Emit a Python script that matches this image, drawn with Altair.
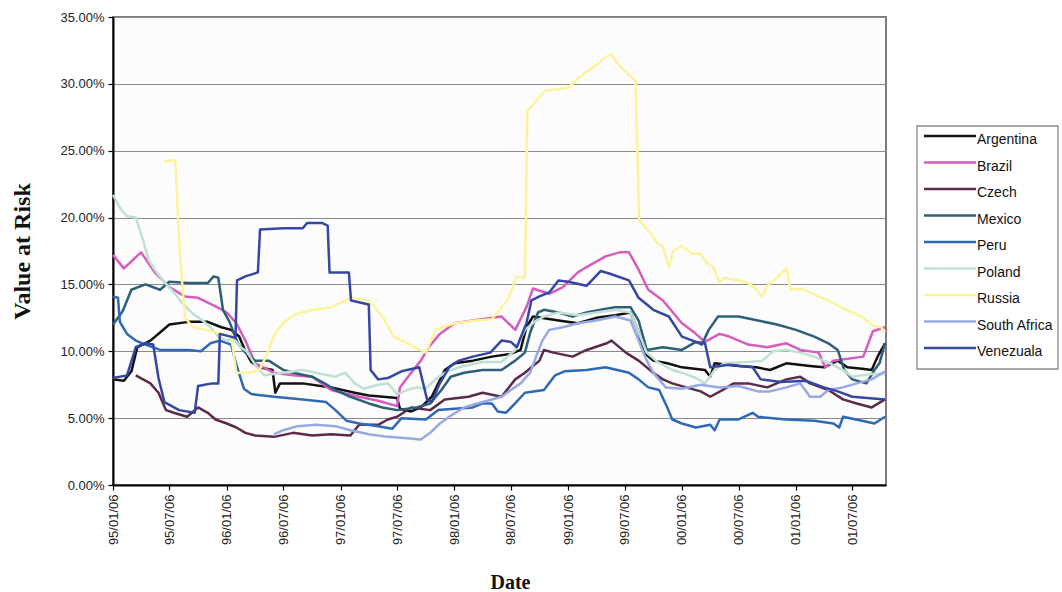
import altair as alt
import pandas as pd

# Weekly 1-day Value at Risk by emerging market, read as (date, % VaR) pairs
COUNTRIES = ["Argentina", "Brazil", "Czech", "Mexico", "Peru",
             "Poland", "Russia", "South Africa", "Venezuala"]

ARGENTINA = [
    ("1995-01-06", 7.9), ("1995-02-10", 7.8), ("1995-03-06", 8.5), ("1995-03-25", 10.3),
    ("1995-05-06", 10.8), ("1995-06-06", 11.4), ("1995-07-06", 12.0), ("1995-09-06", 12.2),
    ("1995-11-06", 12.2), ("1995-12-20", 11.8), ("1996-01-20", 11.6), ("1996-02-15", 11.1),
    ("1996-03-06", 10.0), ("1996-03-25", 9.2), ("1996-04-20", 8.8), ("1996-06-01", 8.6),
    ("1996-06-10", 6.9), ("1996-06-25", 7.6), ("1996-09-06", 7.6), ("1996-12-06", 7.3),
    ("1997-02-20", 6.9), ("1997-04-06", 6.7), ("1997-07-06", 6.5), ("1997-07-15", 5.7),
    ("1997-08-20", 5.5), ("1997-09-20", 5.8), ("1997-10-25", 6.6), ("1997-12-06", 8.6),
    ("1998-01-06", 9.1), ("1998-03-06", 9.3), ("1998-05-06", 9.6), ("1998-07-06", 9.8),
    ("1998-08-06", 10.1), ("1998-08-25", 11.8), ("1998-09-15", 12.6), ("1998-12-06", 12.3),
    ("1999-02-06", 12.1), ("1999-04-06", 12.5), ("1999-06-06", 12.7), ("1999-07-25", 12.9),
    ("1999-08-20", 11.4), ("1999-09-06", 9.9), ("1999-10-06", 9.3), ("1999-11-20", 9.1),
    ("2000-01-06", 8.8), ("2000-03-20", 8.6), ("2000-04-06", 8.1), ("2000-04-20", 9.1),
    ("2000-07-06", 8.9), ("2000-09-01", 8.8), ("2000-10-15", 8.6), ("2000-12-06", 9.1),
    ("2001-02-20", 8.9), ("2001-04-06", 8.8), ("2001-05-20", 9.3), ("2001-06-20", 8.8),
    ("2001-08-06", 8.7), ("2001-09-06", 8.6), ("2001-09-25", 9.6), ("2001-10-19", 10.6),
]

BRAZIL = [
    ("1995-01-06", 17.2), ("1995-02-10", 16.2), ("1995-04-06", 17.4), ("1995-05-20", 15.9),
    ("1995-07-06", 14.8), ("1995-08-25", 14.1), ("1995-10-06", 14.0), ("1995-12-06", 13.3),
    ("1996-01-06", 12.9), ("1996-02-06", 12.1), ("1996-03-06", 10.8), ("1996-04-06", 9.1),
    ("1996-06-06", 8.4), ("1996-08-06", 8.2), ("1996-10-06", 8.1), ("1996-12-06", 7.1),
    ("1997-03-06", 6.6), ("1997-05-06", 6.3), ("1997-07-06", 5.9), ("1997-07-15", 7.3),
    ("1997-08-20", 8.4), ("1997-09-20", 9.3), ("1997-10-15", 10.3), ("1997-11-20", 11.3),
    ("1998-01-06", 12.1), ("1998-03-06", 12.3), ("1998-06-06", 12.6), ("1998-07-20", 11.6),
    ("1998-08-25", 13.3), ("1998-09-15", 14.7), ("1998-11-06", 14.3), ("1998-12-20", 14.8),
    ("1999-02-06", 15.9), ("1999-03-06", 16.3), ("1999-05-06", 17.1), ("1999-06-20", 17.4),
    ("1999-07-20", 17.4), ("1999-08-20", 16.1), ("1999-09-20", 14.6), ("1999-11-06", 13.8),
    ("2000-01-06", 12.1), ("2000-02-15", 11.4), ("2000-03-20", 10.7), ("2000-05-06", 11.3),
    ("2000-06-06", 11.1), ("2000-08-06", 10.5), ("2000-10-06", 10.3), ("2000-12-06", 10.6),
    ("2001-01-20", 10.1), ("2001-03-20", 9.9), ("2001-04-10", 8.8), ("2001-05-06", 9.3),
    ("2001-08-10", 9.6), ("2001-09-10", 11.5), ("2001-10-19", 11.8),
]

CZECH = [
    ("1995-03-20", 8.2), ("1995-05-06", 7.6), ("1995-06-01", 6.9), ("1995-06-25", 5.6),
    ("1995-07-20", 5.4), ("1995-09-01", 5.1), ("1995-10-06", 5.8), ("1995-11-06", 5.4),
    ("1995-12-01", 4.9), ("1996-01-06", 4.6), ("1996-02-06", 4.3), ("1996-03-06", 3.9),
    ("1996-04-06", 3.7), ("1996-06-06", 3.6), ("1996-08-06", 3.9), ("1996-10-06", 3.7),
    ("1996-12-06", 3.8), ("1997-02-06", 3.7), ("1997-03-06", 4.5), ("1997-05-06", 4.5),
    ("1997-06-06", 4.9), ("1997-07-06", 5.1), ("1997-08-20", 5.8), ("1997-10-20", 5.6),
    ("1997-12-06", 6.4), ("1998-02-20", 6.6), ("1998-04-06", 6.9), ("1998-06-06", 6.6),
    ("1998-07-20", 7.9), ("1998-08-20", 8.4), ("1998-09-10", 8.8), ("1998-10-06", 9.3),
    ("1998-10-20", 10.1), ("1998-11-20", 9.9), ("1999-01-20", 9.6), ("1999-03-06", 10.1),
    ("1999-05-10", 10.6), ("1999-05-25", 10.8), ("1999-07-10", 9.9), ("1999-08-20", 9.3),
    ("1999-10-06", 8.4), ("1999-11-06", 7.9), ("1999-12-06", 7.6), ("2000-01-20", 7.3),
    ("2000-03-06", 7.0), ("2000-04-06", 6.6), ("2000-05-15", 7.1), ("2000-06-20", 7.6),
    ("2000-08-06", 7.6), ("2000-10-06", 7.3), ("2000-12-06", 7.9), ("2001-01-20", 8.1),
    ("2001-02-20", 7.6), ("2001-04-20", 7.1), ("2001-06-06", 6.4), ("2001-07-20", 6.1),
    ("2001-09-06", 5.8), ("2001-10-19", 6.4),
]

MEXICO = [
    ("1995-01-06", 12.0), ("1995-02-06", 13.0), ("1995-03-06", 14.6), ("1995-04-20", 15.0),
    ("1995-06-06", 14.6), ("1995-07-06", 15.2), ("1995-09-06", 15.1), ("1995-11-06", 15.1),
    ("1995-11-25", 15.6), ("1995-12-10", 15.5), ("1995-12-25", 13.1), ("1996-01-15", 12.2),
    ("1996-02-10", 10.6), ("1996-03-06", 9.9), ("1996-04-06", 9.3), ("1996-05-20", 9.3),
    ("1996-07-06", 8.6), ("1996-08-06", 8.4), ("1996-10-06", 8.1), ("1996-11-15", 7.6),
    ("1996-12-20", 7.1), ("1997-02-06", 6.6), ("1997-04-06", 6.1), ("1997-05-20", 5.8),
    ("1997-07-06", 5.6), ("1997-09-06", 5.8), ("1997-10-20", 6.1), ("1997-11-25", 7.1),
    ("1997-12-25", 8.1), ("1998-02-06", 8.4), ("1998-04-06", 8.6), ("1998-06-06", 8.6),
    ("1998-07-20", 9.3), ("1998-08-20", 9.9), ("1998-09-06", 11.4), ("1998-10-01", 12.9),
    ("1998-10-20", 13.1), ("1998-12-06", 12.9), ("1999-01-20", 12.6), ("1999-03-06", 12.9),
    ("1999-04-20", 13.1), ("1999-06-06", 13.3), ("1999-07-25", 13.3), ("1999-08-20", 12.3),
    ("1999-09-15", 10.1), ("1999-11-06", 10.3), ("2000-01-06", 10.1), ("2000-02-20", 10.7),
    ("2000-03-10", 10.5), ("2000-04-01", 11.6), ("2000-05-01", 12.6), ("2000-07-06", 12.6),
    ("2000-09-06", 12.3), ("2000-11-06", 12.0), ("2001-01-06", 11.6), ("2001-03-06", 11.1),
    ("2001-04-20", 10.6), ("2001-05-20", 10.1), ("2001-06-10", 8.6), ("2001-07-06", 7.9),
    ("2001-08-20", 7.6), ("2001-09-15", 8.6), ("2001-10-01", 9.1), ("2001-10-19", 10.6),
]

PERU = [
    ("1995-01-06", 14.1), ("1995-01-22", 14.0), ("1995-01-28", 12.2), ("1995-02-20", 11.3),
    ("1995-03-20", 10.8), ("1995-04-20", 10.5), ("1995-06-06", 10.1), ("1995-09-06", 10.1),
    ("1995-10-15", 10.0), ("1995-11-15", 10.6), ("1995-12-15", 10.8), ("1996-01-20", 10.5),
    ("1996-02-06", 9.0), ("1996-03-01", 7.2), ("1996-03-25", 6.8), ("1996-06-06", 6.6),
    ("1996-09-06", 6.4), ("1996-11-20", 6.2), ("1996-12-20", 5.6), ("1997-01-25", 4.8),
    ("1997-03-06", 4.6), ("1997-05-06", 4.4), ("1997-06-20", 4.2), ("1997-07-20", 5.0),
    ("1997-10-06", 4.9), ("1997-11-15", 5.6), ("1998-01-06", 5.7), ("1998-03-06", 5.8),
    ("1998-04-06", 6.1), ("1998-05-06", 6.1), ("1998-05-25", 5.5), ("1998-06-20", 5.4),
    ("1998-07-15", 6.0), ("1998-08-20", 6.9), ("1998-10-20", 7.1), ("1998-11-25", 8.2),
    ("1998-12-25", 8.5), ("1999-03-06", 8.6), ("1999-05-06", 8.8), ("1999-07-20", 8.4),
    ("1999-08-20", 7.9), ("1999-09-20", 7.3), ("1999-10-25", 7.1), ("1999-11-20", 5.8),
    ("1999-12-06", 4.9), ("2000-01-06", 4.6), ("2000-02-20", 4.3), ("2000-04-06", 4.5),
    ("2000-04-20", 4.1), ("2000-05-06", 4.9), ("2000-07-06", 4.9), ("2000-08-20", 5.4),
    ("2000-09-06", 5.1), ("2000-12-06", 4.9), ("2001-03-06", 4.8), ("2001-05-06", 4.6),
    ("2001-05-25", 4.3), ("2001-06-06", 5.1), ("2001-08-06", 4.8), ("2001-09-15", 4.6),
    ("2001-10-19", 5.1),
]

POLAND = [
    ("1995-01-06", 21.7), ("1995-02-01", 20.6), ("1995-02-20", 20.1), ("1995-03-20", 20.0),
    ("1995-04-10", 18.5), ("1995-05-01", 16.8), ("1995-05-20", 16.1), ("1995-06-15", 15.3),
    ("1995-07-20", 14.4), ("1995-08-20", 13.5), ("1995-09-20", 12.8), ("1995-10-15", 12.4),
    ("1995-11-15", 11.8), ("1995-12-10", 11.1), ("1996-01-06", 10.8), ("1996-01-25", 11.0),
    ("1996-02-20", 10.3), ("1996-03-10", 10.0), ("1996-04-06", 9.0), ("1996-05-06", 8.2),
    ("1996-07-06", 8.4), ("1996-09-06", 8.6), ("1996-11-06", 8.3), ("1996-12-20", 8.1),
    ("1997-01-20", 8.4), ("1997-02-20", 7.6), ("1997-03-20", 7.2), ("1997-05-06", 7.5),
    ("1997-06-06", 7.6), ("1997-07-06", 6.8), ("1997-08-06", 7.1), ("1997-09-06", 7.3),
    ("1997-10-06", 7.2), ("1997-11-06", 7.9), ("1997-12-06", 8.4), ("1998-01-20", 8.8),
    ("1998-04-06", 9.2), ("1998-06-06", 9.2), ("1998-07-20", 10.1), ("1998-08-20", 11.6),
    ("1998-09-20", 12.2), ("1998-10-20", 12.6), ("1998-12-06", 12.9), ("1999-02-06", 12.7),
    ("1999-04-06", 12.9), ("1999-06-06", 13.1), ("1999-07-25", 12.9), ("1999-08-20", 11.4),
    ("1999-09-15", 9.9), ("1999-10-20", 9.2), ("1999-12-06", 8.6), ("2000-01-06", 8.4),
    ("2000-02-20", 8.0), ("2000-03-20", 7.6), ("2000-04-20", 8.6), ("2000-05-20", 9.1),
    ("2000-08-06", 9.2), ("2000-09-20", 9.3), ("2000-10-25", 10.0), ("2000-12-06", 10.1),
    ("2001-01-20", 9.9), ("2001-03-06", 9.6), ("2001-04-25", 9.1), ("2001-06-06", 8.6),
    ("2001-07-06", 8.1), ("2001-09-06", 8.3), ("2001-10-19", 8.3),
]

RUSSIA = [
    ("1995-06-20", 24.2), ("1995-07-25", 24.3), ("1995-08-08", 17.5), ("1995-08-25", 12.5),
    ("1995-09-20", 11.8), ("1995-11-01", 11.6), ("1996-01-06", 11.2), ("1996-01-20", 11.2),
    ("1996-02-06", 8.4), ("1996-03-15", 8.4), ("1996-04-20", 8.6), ("1996-05-15", 9.8),
    ("1996-06-10", 11.4), ("1996-07-10", 12.2), ("1996-08-15", 12.8), ("1996-10-10", 13.1),
    ("1996-12-06", 13.3), ("1997-02-10", 14.0), ("1997-04-06", 13.8), ("1997-05-20", 12.6),
    ("1997-06-25", 11.1), ("1997-08-15", 10.5), ("1997-10-06", 9.9), ("1997-11-06", 11.6),
    ("1998-01-06", 12.1), ("1998-03-15", 12.3), ("1998-05-06", 12.4), ("1998-06-06", 13.3),
    ("1998-06-25", 13.8), ("1998-07-25", 15.6), ("1998-08-20", 15.5), ("1998-08-28", 28.0),
    ("1998-09-10", 28.3), ("1998-10-06", 29.0), ("1998-10-25", 29.5), ("1998-12-06", 29.6),
    ("1999-01-06", 29.7), ("1999-02-06", 30.4), ("1999-03-06", 30.9), ("1999-04-06", 31.4),
    ("1999-05-06", 32.0), ("1999-05-25", 32.2), ("1999-06-10", 31.6), ("1999-07-06", 31.0),
    ("1999-08-10", 30.2), ("1999-08-22", 19.8), ("1999-09-06", 19.4), ("1999-09-25", 18.9),
    ("1999-10-15", 18.2), ("1999-11-06", 17.8), ("1999-11-25", 16.3), ("1999-12-10", 17.5),
    ("2000-01-06", 17.9), ("2000-02-06", 17.3), ("2000-03-06", 17.3), ("2000-03-25", 16.6),
    ("2000-04-15", 16.3), ("2000-05-06", 15.1), ("2000-05-20", 15.5), ("2000-07-06", 15.3),
    ("2000-08-06", 15.1), ("2000-08-25", 14.8), ("2000-09-20", 14.1), ("2000-10-06", 14.9),
    ("2000-11-06", 15.5), ("2000-12-06", 16.2), ("2000-12-20", 14.6), ("2001-01-20", 14.7),
    ("2001-02-20", 14.4), ("2001-03-20", 14.1), ("2001-04-20", 13.8), ("2001-05-06", 13.6),
    ("2001-06-06", 13.2), ("2001-07-06", 12.9), ("2001-08-06", 12.6), ("2001-09-10", 11.9),
    ("2001-10-06", 11.8), ("2001-10-19", 11.4),
]

SOUTH_AFRICA = [
    ("1996-06-06", 3.8), ("1996-07-06", 4.1), ("1996-08-20", 4.4), ("1996-10-20", 4.5),
    ("1996-12-20", 4.4), ("1997-02-06", 4.1), ("1997-04-06", 3.8), ("1997-06-06", 3.6),
    ("1997-08-06", 3.5), ("1997-09-20", 3.4), ("1997-10-20", 3.9), ("1997-11-20", 4.6),
    ("1997-12-20", 5.1), ("1998-02-06", 5.8), ("1998-03-20", 6.1), ("1998-05-06", 6.4),
    ("1998-06-06", 6.6), ("1998-07-06", 7.1), ("1998-08-06", 7.6), ("1998-09-06", 8.4),
    ("1998-09-25", 9.6), ("1998-10-15", 10.8), ("1998-11-06", 11.6), ("1998-12-20", 11.8),
    ("1999-02-06", 12.1), ("1999-04-06", 12.3), ("1999-06-06", 12.6), ("1999-07-25", 12.3),
    ("1999-08-20", 10.8), ("1999-09-15", 9.3), ("1999-10-06", 8.4), ("1999-11-15", 7.3),
    ("2000-01-06", 7.2), ("2000-03-06", 7.5), ("2000-05-06", 7.3), ("2000-07-06", 7.4),
    ("2000-09-06", 7.0), ("2000-10-15", 7.0), ("2000-12-06", 7.3), ("2001-01-20", 7.6),
    ("2001-02-20", 6.6), ("2001-03-25", 6.6), ("2001-04-20", 7.1), ("2001-06-06", 7.3),
    ("2001-07-20", 7.6), ("2001-09-06", 7.9), ("2001-10-19", 8.5),
]

VENEZUALA = [
    ("1995-01-06", 8.0), ("1995-02-20", 8.2), ("1995-03-20", 10.3), ("1995-04-20", 10.6),
    ("1995-05-15", 10.5), ("1995-06-01", 8.0), ("1995-06-20", 6.2), ("1995-08-06", 5.6),
    ("1995-09-25", 5.4), ("1995-10-06", 7.4), ("1995-11-20", 7.6), ("1995-12-10", 7.6),
    ("1995-12-15", 11.3), ("1996-02-03", 11.0), ("1996-02-08", 15.3), ("1996-03-06", 15.6),
    ("1996-04-15", 15.9), ("1996-04-22", 19.1), ("1996-07-06", 19.2), ("1996-09-06", 19.2),
    ("1996-09-20", 19.6), ("1996-11-06", 19.6), ("1996-11-25", 19.4), ("1996-12-01", 15.9),
    ("1997-02-01", 15.9), ("1997-02-08", 13.8), ("1997-04-06", 13.5), ("1997-04-12", 8.6),
    ("1997-05-06", 7.9), ("1997-06-06", 8.0), ("1997-07-20", 8.5), ("1997-09-15", 8.8),
    ("1997-10-10", 6.4), ("1997-10-25", 6.2), ("1997-11-20", 7.6), ("1997-12-20", 8.8),
    ("1998-01-20", 9.3), ("1998-03-06", 9.6), ("1998-05-01", 9.9), ("1998-06-06", 10.8),
    ("1998-07-06", 10.7), ("1998-07-25", 10.3), ("1998-08-25", 12.1), ("1998-09-10", 13.8),
    ("1998-10-06", 14.1), ("1998-11-06", 14.4), ("1998-12-06", 15.3), ("1999-01-06", 15.2),
    ("1999-03-06", 14.9), ("1999-04-20", 16.0), ("1999-05-20", 15.8), ("1999-07-20", 15.3),
    ("1999-08-20", 14.0), ("1999-10-06", 13.1), ("1999-11-25", 12.6), ("2000-01-06", 11.1),
    ("2000-02-20", 10.7), ("2000-03-20", 10.6), ("2000-04-06", 8.8), ("2000-06-06", 9.0),
    ("2000-08-20", 8.8), ("2000-09-15", 7.9), ("2000-11-20", 7.7), ("2001-02-06", 7.8),
    ("2001-04-06", 7.3), ("2001-05-20", 7.0), ("2001-07-06", 6.6), ("2001-10-19", 6.4),
]

SERIES = [ARGENTINA, BRAZIL, CZECH, MEXICO, PERU, POLAND, RUSSIA, SOUTH_AFRICA, VENEZUALA]

# Line styling per country (same order as COUNTRIES)
COLORS = ["#111111", "#d65cbd", "#5b2b4c", "#2d5f7a", "#2f69b6",
          "#bfe0d2", "#fbf49c", "#98a8e4", "#3547a3"]
WIDTHS = [2.5, 2.5, 4.2, 2.5, 2.5, 2.5, 2.3, 2.5, 2.5]

TICK_DATES = ["1995-01-06", "1995-07-06", "1996-01-06", "1996-07-06", "1997-01-06",
              "1997-07-06", "1998-01-06", "1998-07-06", "1999-01-06", "1999-07-06",
              "2000-01-06", "2000-07-06", "2001-01-06", "2001-07-06"]


def to_ms(day):
    return int(pd.Timestamp(day, tz="UTC").value // 10**6)


rows = []
for order, (name, pts) in enumerate(zip(COUNTRIES, SERIES)):
    for day, pct in pts:
        rows.append({"country": name, "order": order, "date": to_ms(day), "var": pct / 100.0})
df = pd.DataFrame(rows)

legend_df = pd.DataFrame({"country": COUNTRIES, "idx": list(range(len(COUNTRIES)))})
box_df = pd.DataFrame({"box": [0]})

x_domain = [to_ms("1995-01-06"), to_ms("2001-10-22")]
tick_values = [to_ms(d) for d in TICK_DATES]

SANS = "Liberation Sans"
SERIF = "Liberation Serif"
W, H = 773, 468

color_scale = alt.Scale(domain=COUNTRIES, range=COLORS)
width_scale = alt.Scale(domain=COUNTRIES, range=WIDTHS)

lines = alt.Chart(df).mark_line(interpolate="linear", strokeJoin="round", strokeCap="butt").encode(
    x=alt.X(
        "date:T",
        scale=alt.Scale(type="utc", domain=x_domain, nice=False),
        axis=alt.Axis(
            values=tick_values,
            labelExpr="utcFormat(datum.value, '%y/%m/%d')",
            labelAngle=270, labelFont=SANS, labelFontSize=13, labelColor="#222222",
            labelPadding=4, tickSize=5, tickColor="#000000", tickWidth=1.2,
            domainColor="#000000", domainWidth=2, grid=False,
            title="Date", titleFont=SERIF, titleFontSize=20, titleFontWeight="bold",
            titleColor="#111111", titleX=397, titleY=97, titleBaseline="middle",
            titleAlign="center",
        ),
    ),
    y=alt.Y(
        "var:Q",
        scale=alt.Scale(domain=[0, 0.35], nice=False),
        axis=alt.Axis(
            values=[0, 0.05, 0.10, 0.15, 0.20, 0.25, 0.30, 0.35], format=".2%",
            labelFont=SANS, labelFontSize=13, labelColor="#222222", labelPadding=4,
            tickSize=5, tickColor="#000000", tickWidth=1.2,
            domainColor="#000000", domainWidth=2,
            grid=True, gridColor="#8a8a8a", gridWidth=1,
            title="Value at Risk", titleFont=SERIF, titleFontSize=24,
            titleFontWeight="bold", titleColor="#111111", titleAngle=270,
            titleX=-91, titleY=234, titleAlign="center", titleBaseline="middle",
        ),
    ),
    color=alt.Color("country:N", scale=color_scale, legend=None),
    strokeWidth=alt.StrokeWidth("country:N", scale=width_scale, legend=None),
    order=alt.Order("order:Q"),
)

# Legend panel to the right of the plot
legend_box = alt.Chart(box_df).mark_rect(
    fill="#ffffff", stroke="#8a8a8a", strokeWidth=1.3
).encode(
    x=alt.value(804), x2=alt.value(945), y=alt.value(109), y2=alt.value(352)
)

row_y = alt.Y("idx:Q", scale=alt.Scale(domain=[0, 8], range=[119, 331]), axis=None)

legend_lines = alt.Chart(legend_df).mark_rule(strokeCap="butt").encode(
    x=alt.value(811), x2=alt.value(863),
    y=row_y,
    color=alt.Color("country:N", scale=color_scale, legend=None),
    strokeWidth=alt.StrokeWidth("country:N", scale=width_scale, legend=None),
)

legend_text = alt.Chart(legend_df).mark_text(
    align="left", baseline="middle", dx=0, dy=4,
    font=SANS, fontSize=14, color="#111111",
).encode(
    x=alt.value(864),
    y=row_y,
    text="country:N",
)

chart = alt.layer(lines, legend_box, legend_lines, legend_text).resolve_scale(
    y="independent"
).properties(
    width=W, height=H,
    autosize=alt.AutoSizeParams(type="none"),
    padding={"left": 113, "top": 17, "right": 176, "bottom": 107},
).configure(
    background="#ffffff",
).configure_view(
    fill="#fcfcfc", stroke="#857585", strokeWidth=2,
)

chart.save("out.html", embed_options={"renderer": "svg", "actions": False})
